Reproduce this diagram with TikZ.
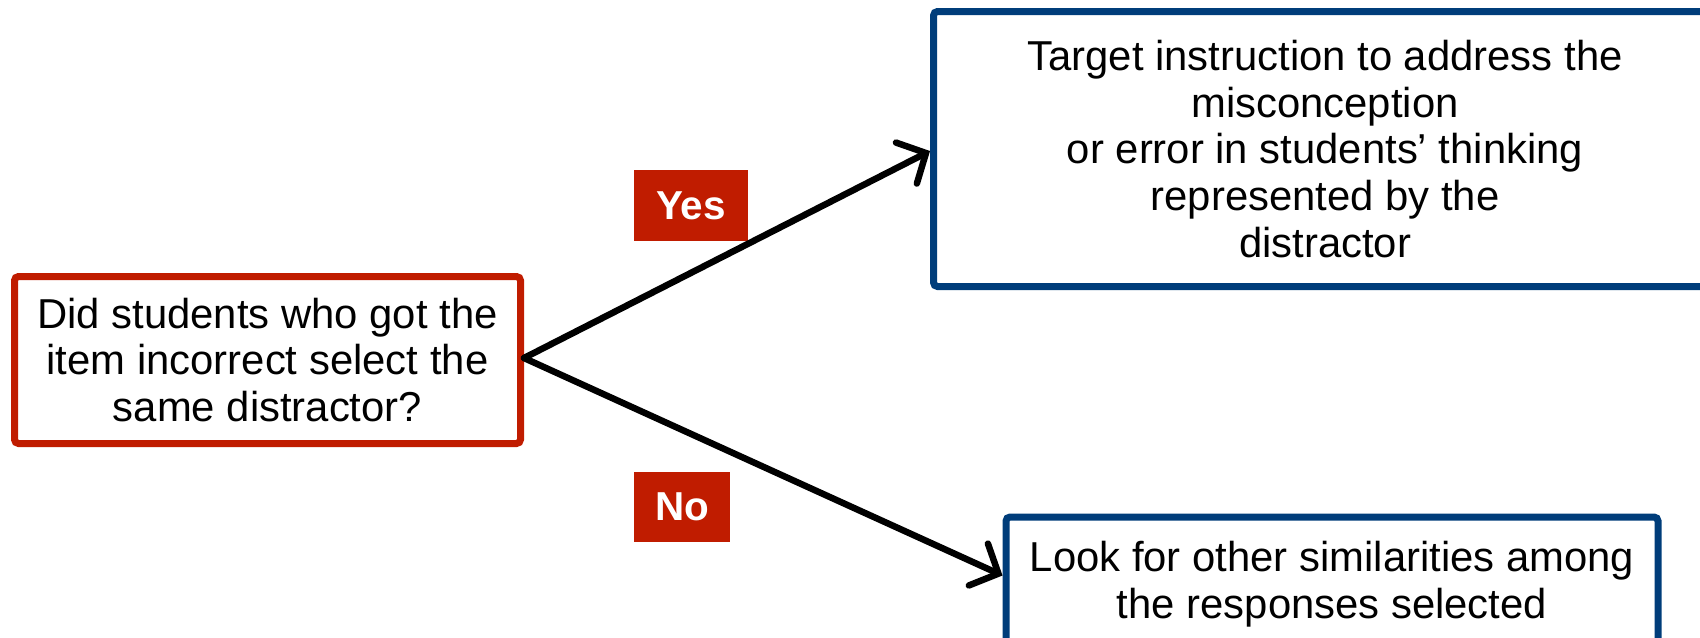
\documentclass[tikz,border=0pt]{standalone}
\usepackage{fontspec}
\setmainfont{Liberation Sans}
\usetikzlibrary{arrows.meta}
\definecolor[named]{QRed}{RGB}{192,28,0}
\definecolor[named]{QBlue}{RGB}{0,61,122}
\newcommand{\boxfont}{\fontsize{11.9pt}{13.3pt}\selectfont}
\newcommand{\tagfont}{\fontsize{11.5pt}{13pt}\selectfont\bfseries}
\tikzset{
  question/.style={draw=QRed,line width=0.7mm,rounded corners=0.4mm,
    fill=white,align=center,inner sep=0pt,font=\boxfont},
  action/.style={draw=QBlue,line width=0.7mm,rounded corners=0.4mm,
    fill=white,align=center,inner sep=0pt,font=\boxfont},
  answer/.style={fill=QRed,text=white,inner sep=0pt,font=\tagfont},
  flow/.style={line width=0.65mm,line cap=round,
    -{Straight Barb[length=2.2mm,width=4.6mm,line cap=round]}}
}

\begin{document}
\begin{tikzpicture}[x=0.1mm,y=-0.1mm]
  \useasboundingbox (0,0) rectangle (1700,637);

  % Boxes {{{
  \node[question,minimum width=50.6mm,minimum height=16.7mm] (ask) at (267.5,360)
    {Did students who got the\\item incorrect select the\\same distractor?};
  \node[action,minimum width=78.3mm,minimum height=27.5mm] (target) at (1325,149)
    {Target instruction to address the\\misconception\\or error in students’ thinking\\represented by the\\distractor};
  \node[action,minimum width=65.2mm,minimum height=13.5mm] (look) at (1332,584.5)
    {Look for other similarities among\\the responses selected};
  % }}}

  % Answers {{{
  \node[answer,minimum width=11.4mm,minimum height=7.1mm] (yes) at (691,205.5) {Yes};
  \node[answer,minimum width=9.6mm,minimum height=7mm] (no) at (682,507) {No};
  % }}}

  \draw[flow] ([yshift=0.2mm]ask.east) -- ([yshift=-0.2mm]target.west);
  \draw[flow] ([yshift=0.2mm]ask.east) -- ([yshift=0.9mm]look.west);

\end{tikzpicture}
\end{document}
